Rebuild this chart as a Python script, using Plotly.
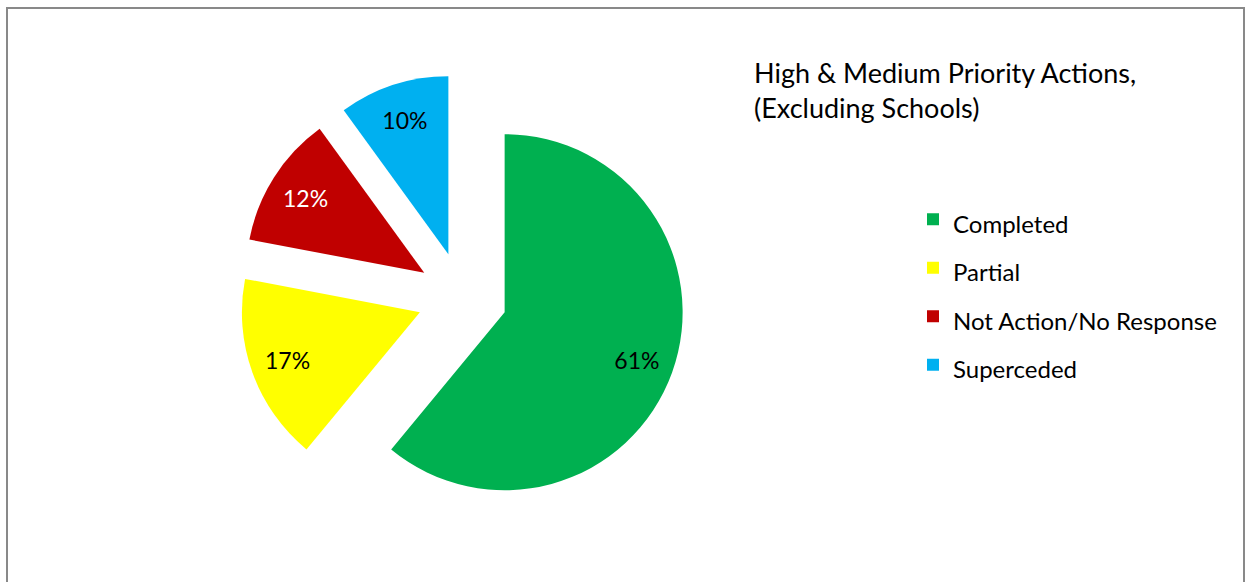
import plotly.graph_objects as go

labels = ["Completed", "Partial", "Not Action/No Response", "Superceded"]
values = [61, 17, 12, 10]
colors = ["#00B050", "#FFFF00", "#C00000", "#00B0F0"]
text_colors = ["black", "black", "white", "black"]
title_lines = ["High & Medium Priority Actions,", "(Excluding Schools)"]

W, H = 1246, 582
FONT = "Lato, Calibri, Carlito, sans-serif"
PULL = 0.253
DOMAIN = dict(x=[0.1917, 0.5503], y=[0.1065, 0.8729])

fig = go.Figure()
# coloured slices + legend
fig.add_trace(go.Pie(
    labels=[f'<span style="font-size:24px">{l}</span>' for l in labels],
    values=values,
    sort=False,
    direction="clockwise",
    rotation=0,
    pull=[PULL] * len(values),
    marker=dict(colors=colors, line=dict(width=0)),
    textinfo="none",
    domain=DOMAIN,
    hoverinfo="label+percent",
))
# transparent ring that carries the percentage labels near the outer edge
fig.add_trace(go.Pie(
    labels=labels,
    values=values,
    sort=False,
    direction="clockwise",
    rotation=0,
    pull=[PULL] * len(values),
    hole=0.58,
    marker=dict(colors=["rgba(0,0,0,0)"] * len(values), line=dict(width=0)),
    textinfo="percent",
    textposition="inside",
    insidetextorientation="horizontal",
    insidetextfont=dict(family=FONT, size=23, color=text_colors),
    domain=DOMAIN,
    showlegend=False,
    hoverinfo="skip",
))

fig.add_annotation(
    text="<br>".join(title_lines), x=752 / W, y=1 - 54 / H, xref="paper", yref="paper",
    xanchor="left", yanchor="top", align="left", showarrow=False,
    font=dict(family=FONT, size=27, color="black"),
)

fig.add_shape(type="rect", xref="paper", yref="paper",
              x0=7 / W, x1=1244 / W, y0=-0.1, y1=1 - 8 / H,
              line=dict(color="#898989", width=2), fillcolor="rgba(0,0,0,0)")

fig.update_layout(
    width=W, height=H,
    margin=dict(l=0, r=0, t=0, b=0),
    paper_bgcolor="white", plot_bgcolor="white",
    showlegend=True,
    legend=dict(x=913 / W, y=1 - 190 / H, xanchor="left", yanchor="top",
                font=dict(family=FONT, size=35, color="black"),
                bgcolor="rgba(0,0,0,0)", itemclick=False),
    font=dict(family=FONT),
)

fig.write_html("out.html")
